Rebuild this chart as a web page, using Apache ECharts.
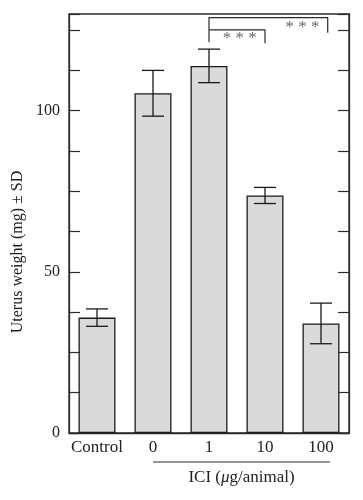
<!DOCTYPE html>
<html>
<head>
<meta charset="utf-8">
<script src="https://cdn.jsdelivr.net/npm/echarts@6/dist/echarts.min.js"></script>
<style>html,body{margin:0;padding:0;background:#fff;}#c{width:363px;height:500px;}</style>
</head>
<body>
<div id="c"></div>
<script>
const categories = ['Control', '0', '1', '10', '100'];
const means = [35.8, 105.4, 113.9, 73.7, 34.0];
const sds = [2.7, 7.1, 5.2, 2.5, 6.3];
const yLabeled = [0, 50, 100];
const yMin = 0, yMax = 130, yStep = 12.5;
// significance brackets as [x, y] points on a hidden value axis
const bracketShort = [[2, 121.2], [2, 125.1], [3, 125.1], [3, 120.9]];
const bracketLong = [[2, 125.1], [2, 128.9], [4.12, 128.9], [4.12, 124.2]];
const stars = [[2.55, 122.4], [3.67, 125.9]];

const FONT = '"Liberation Serif", "Times New Roman", serif';
const INK = '#2b2b2b';

const chart = echarts.init(document.getElementById('c'), null, {renderer: 'canvas'});
const errData = categories.map((c, i) => [i, means[i] + sds[i], means[i] - sds[i]]);

chart.setOption({
  animation: false,
  backgroundColor: '#fff',
  grid: {left: 69, right: 14, top: 14, bottom: 67, show: true, borderColor: INK, borderWidth: 1.3, backgroundColor: 'transparent'},
  xAxis: [
    {type: 'category', data: categories, axisTick: {show: false},
     axisLine: {onZero: false, lineStyle: {color: INK, width: 1.3}},
     axisLabel: {interval: 0, fontFamily: FONT, fontSize: 17, color: '#222', margin: 6}},
    {type: 'value', min: -0.5, max: 4.5, show: false, axisLine: {onZero: false}}
  ],
  yAxis: [
    {type: 'value', min: yMin, max: yMax, interval: yStep, position: 'left',
     splitLine: {show: false},
     axisLine: {show: true, onZero: false, lineStyle: {color: INK, width: 1.3}},
     axisTick: {show: true, inside: true, length: 11, lineStyle: {color: INK, width: 1.2}},
     axisLabel: {fontFamily: FONT, fontSize: 16, color: '#222', margin: 9,
       formatter: v => yLabeled.indexOf(v) >= 0 ? String(v) : ''}},
    {type: 'value', min: yMin, max: yMax, interval: yStep, position: 'right',
     splitLine: {show: false},
     axisLine: {show: true, onZero: false, lineStyle: {color: INK, width: 1.3}},
     axisTick: {show: true, inside: true, length: 11, lineStyle: {color: INK, width: 1.2}},
     axisLabel: {show: false}}
  ],
  series: [
    {type: 'bar', data: means, barCategoryGap: '34%',
     itemStyle: {color: '#d9dadb', borderColor: '#1a1a1a', borderWidth: 1.3}},
    {type: 'custom', data: errData, xAxisIndex: 0, yAxisIndex: 0, z: 5,
     renderItem: function (params, api) {
       const x = api.value(0);
       const hi = api.coord([x, api.value(1)]);
       const lo = api.coord([x, api.value(2)]);
       const h = 11;
       const st = {stroke: '#1a1a1a', lineWidth: 1.3};
       return {type: 'group', children: [
         {type: 'line', shape: {x1: hi[0], y1: hi[1], x2: lo[0], y2: lo[1]}, style: st},
         {type: 'line', shape: {x1: hi[0] - h, y1: hi[1], x2: hi[0] + h, y2: hi[1]}, style: st},
         {type: 'line', shape: {x1: lo[0] - h, y1: lo[1], x2: lo[0] + h, y2: lo[1]}, style: st}
       ]};
     }},
    {type: 'line', xAxisIndex: 1, data: bracketShort, symbol: 'none', z: 6,
     lineStyle: {color: INK, width: 1.2}},
    {type: 'line', xAxisIndex: 1, data: bracketLong, symbol: 'none', z: 6,
     lineStyle: {color: INK, width: 1.2}},
    {type: 'scatter', xAxisIndex: 1, data: stars, symbolSize: 1, z: 6,
     itemStyle: {color: 'rgba(0,0,0,0)'},
     label: {show: true, position: 'inside', formatter: '* * *', fontFamily: FONT, fontSize: 17, color: '#444'}}
  ],
  graphic: [
    {type: 'text', x: 18, y: 252, rotation: Math.PI / 2,
     style: {text: 'Uterus weight (mg) ± SD', font: '16px ' + FONT, fill: '#222', align: 'center', verticalAlign: 'middle'}},
    {type: 'line', shape: {x1: 153, y1: 462, x2: 330, y2: 462}, style: {stroke: INK, lineWidth: 1.2}},
    {type: 'text', x: 241.5, y: 478,
     style: {text: '{a|ICI (}{b|μ}{a|g/animal)}', align: 'center', verticalAlign: 'middle',
       rich: {a: {fontFamily: FONT, fontSize: 17, fill: '#222'}, b: {fontFamily: FONT, fontSize: 17, fontStyle: 'italic', fill: '#222'}}}}
  ]
});
</script>
</body>
</html>
